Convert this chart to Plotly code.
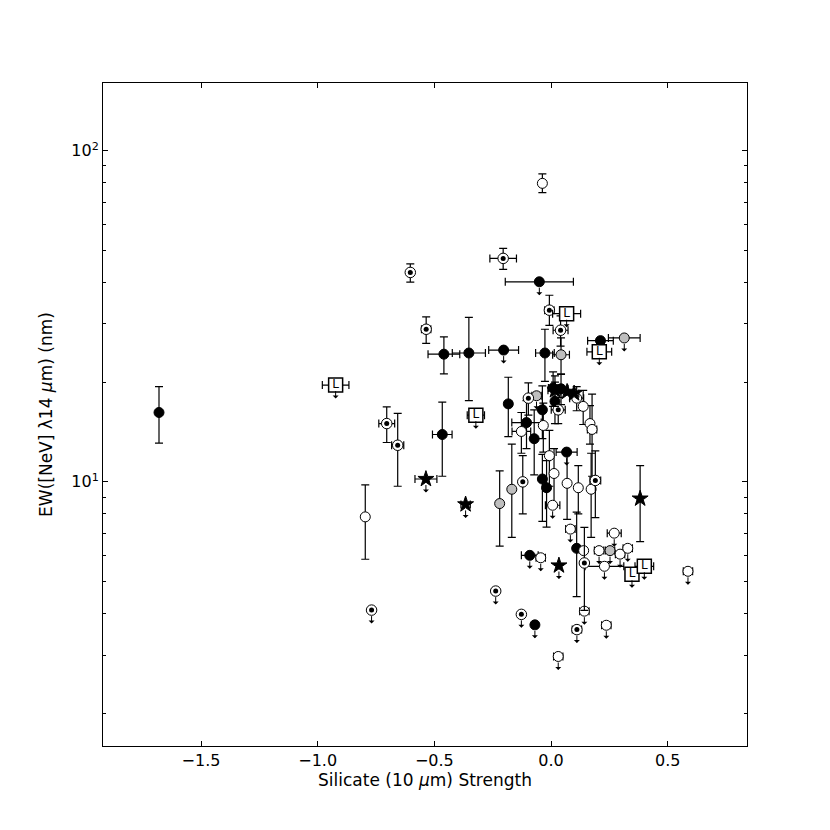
import math
import plotly.graph_objects as go

# ---------------- data ----------------
# filled black circles
filled_x = [-1.68, -0.459, -0.352, -0.466, -0.050, -0.203, -0.026, 0.212, -0.183, 0.009,
            0.043, 0.017, -0.037, -0.105, -0.072, 0.067, -0.037, -0.019, 0.110, -0.091, -0.069]
filled_y = [16.2, 24.3, 24.5, 13.9, 40.2, 25.0, 24.5, 26.7, 17.2, 19.2,
            19.1, 17.5, 16.5, 15.1, 13.5, 12.3, 10.2, 9.6, 6.3, 6.0, 3.7]
filled_xerr = [0, 0.068, 0.071, 0.042, 0.146, 0.064, 0.040, 0.055, 0, 0.02,
               0.03, 0, 0, 0.063, 0, 0.045, 0, 0, 0, 0.036, 0]
filled_yerr_hi = [3.2, 3.1, 6.9, 3.5, 0, 0, 4.4, 0, 3.5, 2.3,
                  2.0, 2.5, 3.0, 2.5, 3.0, 0, 1.9, 2.0, 1.8, 0, 0]
filled_yerr_lo = [3.1, 3.1, 6.9, 3.5, 0, 0, 4.4, 0, 3.5, 2.3,
                  2.0, 2.5, 3.0, 2.5, 3.0, 0, 2.6, 2.3, 1.8, 0, 0]
filled_ul = [0, 0, 0, 0, 1, 1, 0, 0, 0, 0,
             0, 0, 0, 0, 0, 1, 0, 0, 0, 1, 1]

# open (white) circles
open_x = [-0.037, -0.796, 0.138, 0.110, -0.033, -0.127, 0.167, 0.176, -0.007, 0.013,
          0.069, 0.117, 0.172, 0.007, 0.083, 0.140, 0.271, 0.206, 0.296, 0.329,
          0.229, 0.587, -0.044, 0.143, 0.237, 0.031]
open_y = [79.7, 7.84, 16.9, 17.9, 14.8, 14.2, 15.0, 14.4, 12.0, 10.6,
          9.9, 9.6, 9.5, 8.5, 7.2, 6.2, 7.0, 6.2, 6.05, 6.3,
          5.56, 5.37, 5.9, 4.07, 3.69, 2.97]
open_xerr = [0, 0, 0, 0.03, 0, 0.04, 0, 0.02, 0, 0,
             0, 0, 0, 0.031, 0.02, 0, 0.03, 0.02, 0.02, 0.02,
             0.083, 0.02, 0.02, 0.02, 0.02, 0.02]
open_yerr_hi = [5.4, 1.95, 2.0, 1.5, 2.5, 2.0, 2.0, 4.0, 2.3, 2.0,
                2.3, 1.6, 2.7, 0, 0, 0, 0, 0, 0, 0,
                0, 0, 0, 0, 0, 0]
open_yerr_lo = [5.0, 2.0, 2.0, 1.5, 2.5, 2.0, 2.0, 4.0, 2.3, 2.2,
                2.2, 1.6, 2.7, 0, 0, 0, 0, 0, 0, 0,
                0, 0, 0, 0, 0, 0]
open_ul = [0, 0, 0, 0, 0, 0, 0, 0, 0, 0,
           0, 0, 0, 1, 1, 0, 1, 1, 1, 1,
           1, 1, 1, 1, 1, 1]

# grey circles
grey_x = [0.043, 0.314, -0.062, -0.168, -0.220, 0.253]
grey_y = [24.2, 27.2, 18.2, 9.5, 8.6, 6.2]
grey_xerr = [0.036, 0.068, 0.02, 0, 0, 0.02]
grey_yerr_hi = [3.0, 0, 0, 3.5, 2.2, 0]
grey_yerr_lo = [3.0, 0, 0, 2.7, 2.2, 0]
grey_ul = [0, 1, 1, 0, 0, 1]

# dotted circles
dot_x = [-0.603, -0.205, -0.535, -0.007, 0.041, -0.704, -0.657, -0.769, -0.097, 0.031,
         -0.121, 0.190, 0.143, -0.237, -0.127, 0.111]
dot_y = [42.9, 47.3, 28.9, 33.0, 28.7, 15.0, 12.9, 4.1, 17.9, 16.5,
         10.0, 10.1, 5.69, 4.68, 3.98, 3.58]
dot_xerr = [0, 0.057, 0.02, 0.02, 0.032, 0.034, 0.026, 0, 0, 0.03,
            0, 0.023, 0, 0, 0, 0.02]
dot_yerr_hi = [2.6, 3.4, 2.6, 3.6, 3.0, 1.85, 3.2, 0, 2.0, 1.5,
               2.0, 2.3, 1.6, 0, 0, 0]
dot_yerr_lo = [2.8, 3.5, 2.7, 3.3, 3.0, 1.85, 3.2, 0, 2.0, 1.5,
               2.0, 2.3, 1.6, 0, 0, 0]
dot_ul = [0, 0, 0, 0, 0, 0, 0, 1, 0, 0,
          0, 0, 0, 1, 1, 1]

# stars
star_x = [-0.536, -0.366, 0.034, 0.382, 0.017, 0.069, 0.099]
star_y = [10.2, 8.55, 5.59, 8.9, 18.9, 18.7, 18.5]
star_xerr = [0.047, 0.02, 0, 0, 0.03, 0.03, 0.02]
star_yerr_hi = [0, 0, 0, 2.3, 2.0, 0, 0]
star_yerr_lo = [0, 0, 0, 2.3, 2.0, 0, 0]
star_ul = [1, 1, 1, 0, 0, 0, 0]

# "L" squares
lsq_x = [-0.923, -0.322, 0.067, 0.207, 0.347, 0.400]
lsq_y = [19.6, 15.9, 32.2, 24.7, 5.26, 5.56]
lsq_xerr = [0.057, 0.037, 0.06, 0.053, 0, 0.04]
lsq_ul = [1, 1, 1, 1, 1, 1]
lsq_label = "L"

x_ticks = [-1.5, -1.0, -0.5, 0.0, 0.5]
x_ticktext = ["\u22121.5", "\u22121.0", "\u22120.5", "0.0", "0.5"]
y_ticks = [10, 100]
y_ticktext = ["10<sup>1</sup>", "10<sup>2</sup>"]
y_minor = [2, 3, 4, 5, 6, 7, 8, 9, 20, 30, 40, 50, 60, 70, 80, 90]

# ---------------- figure ----------------
fig = go.Figure()


def nz(v):
    return [e if e else None for e in v]


def err(xe, yhi, ylo):
    return dict(
        error_x=dict(type="data", array=nz(xe), color="black", thickness=1.2, width=4),
        error_y=dict(type="data", symmetric=False, array=nz(yhi), arrayminus=nz(ylo),
                     color="black", thickness=1.2, width=4),
    )


def add(x, y, xe, yhi, ylo, marker, **kw):
    fig.add_trace(go.Scatter(x=x, y=y, mode=kw.pop("mode", "markers"), marker=marker,
                             showlegend=False, hoverinfo="skip",
                             **err(xe, yhi, ylo), **kw))


add(filled_x, filled_y, filled_xerr, filled_yerr_hi, filled_yerr_lo,
    dict(symbol="circle", size=10, color="black", line=dict(color="black", width=1)))
add(grey_x, grey_y, grey_xerr, grey_yerr_hi, grey_yerr_lo,
    dict(symbol="circle", size=10, color="#bebebe", line=dict(color="black", width=1)))
add(open_x, open_y, open_xerr, open_yerr_hi, open_yerr_lo,
    dict(symbol="circle", size=10, color="white", line=dict(color="black", width=1)))
add(dot_x, dot_y, dot_xerr, dot_yerr_hi, dot_yerr_lo,
    dict(symbol="circle", size=10.5, color="white", line=dict(color="black", width=1)))
fig.add_trace(go.Scatter(x=dot_x, y=dot_y, mode="markers", showlegend=False, hoverinfo="skip",
                         marker=dict(symbol="circle", size=5, color="black", line=dict(width=0))))
add(star_x, star_y, star_xerr, star_yerr_hi, star_yerr_lo,
    dict(symbol="star", size=12, color="black", line=dict(color="black", width=1)))
add(lsq_x, lsq_y, lsq_xerr, [0] * len(lsq_x), [0] * len(lsq_x),
    dict(symbol="square", size=14, color="white", line=dict(color="black", width=1.5)),
    mode="markers+text", text=[lsq_label] * len(lsq_x), textposition="middle center",
    textfont=dict(family="DejaVu Sans", size=12, color="black"))

# upper-limit arrows
for xs, ys, uls in [(filled_x, filled_y, filled_ul), (open_x, open_y, open_ul),
                    (grey_x, grey_y, grey_ul), (dot_x, dot_y, dot_ul),
                    (star_x, star_y, star_ul), (lsq_x, lsq_y, lsq_ul)]:
    for xv, yv, u in zip(xs, ys, uls):
        if u:
            fig.add_annotation(x=xv, y=math.log10(yv), xref="x", yref="y",
                               ax=0, ay=16, axref="pixel", ayref="pixel", text=" ",
                               font=dict(size=2), showarrow=True, arrowhead=4,
                               arrowside="start", arrowsize=1.1, arrowwidth=1,
                               arrowcolor="black", standoff=6)

axis_common = dict(showline=True, linecolor="black", linewidth=1, mirror="ticks",
                   ticks="inside", ticklen=5, tickwidth=1, tickcolor="black",
                   showgrid=False, zeroline=False, automargin=False,
                   tickfont=dict(family="DejaVu Sans", size=16, color="black"))

# the page adds an 8 px body margin, so the margins are offset to keep the frame in place
fig.update_layout(
    width=830, height=830,
    margin=dict(l=95, r=91, t=75, b=92),
    plot_bgcolor="white", paper_bgcolor="white",
    font=dict(family="DejaVu Sans", size=15, color="black"),
    xaxis=dict(range=[-1.92, 0.84], tickvals=x_ticks, ticktext=x_ticktext,
               title=dict(text="Silicate (10 <i>\u03bc</i>m) Strength", standoff=4,
                          font=dict(family="DejaVu Sans", size=17, color="black")),
               **axis_common),
    yaxis=dict(type="log", range=[0.2024, 2.2045], tickvals=y_ticks, ticktext=y_ticktext,
               minor=dict(tickvals=y_minor, ticks="inside", ticklen=3, tickcolor="black"),
               title=dict(text="EW([NeV] \u03bb14 <i>\u03bc</i>m) (nm)", standoff=14,
                          font=dict(family="DejaVu Sans", size=17, color="black")),
               **axis_common),
)

fig.write_html("out.html")
